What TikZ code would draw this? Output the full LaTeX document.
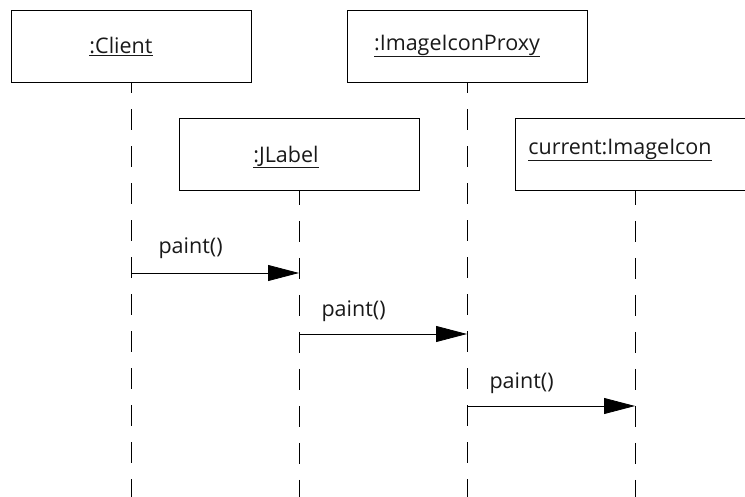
\documentclass[tikz,border=0pt]{standalone}
\usepackage{fontspec}
\setmainfont{Open Sans}
\usetikzlibrary{arrows.meta}
\begin{document}
\begin{tikzpicture}[x=1pt,y=-1pt,
  obj/.style={draw,line width=0.9pt,minimum width=240pt,minimum height=72pt,inner sep=0pt},
  lbl/.style={font=\fontsize{21.5}{24}\selectfont,text=black!90},
  life/.style={line width=1pt,dash pattern=on 21pt off 16pt},
  msg/.style={line width=0.8pt,-{Triangle[length=31pt,width=16pt]}},
  mlbl/.style={font=\fontsize{21.5}{24}\selectfont,anchor=west,text=black!90}]
\useasboundingbox (0,0) rectangle (745,497);
\clip (0,0) rectangle (745,497);
% objects
\node[obj] (client) at (131,46) {};
\node[obj] (proxy) at (467,46) {};
\node[obj] (jlabel) at (299,154.5) {};
\node[obj] (icon) at (635,154.5) {};
\node[lbl] (tclient) at (121,46) {\underline{:Client}};
\node[lbl] (tproxy) at (457,46) {\underline{:ImageIconProxy}};
\node[lbl] (tjlabel) at (286,157) {\underline{:JLabel}};
\node[lbl] (ticon) at (620,150) {\underline{current:ImageIcon}};
% lifeline ends
\coordinate (eclient) at (131,497);
\coordinate (eproxy) at (467,497);
\coordinate (ejlabel) at (299,497);
\coordinate (eicon) at (635,497);
\draw[life,dash phase=10pt] (client.south) -- (eclient);
\draw[life,dash phase=10pt] (proxy.south) -- (eproxy);
\draw[life,dash phase=7pt] (jlabel.south) -- (ejlabel);
\draw[life,dash phase=7pt] (icon.south) -- (eicon);
% messages
\coordinate (m1a) at (131,273);
\coordinate (m1b) at (299,273);
\coordinate (m2a) at (299,334);
\coordinate (m2b) at (467,334);
\coordinate (m3a) at (467,406);
\coordinate (m3b) at (635,406);
\draw[msg] (m1a) -- (m1b);
\draw[msg] (m2a) -- (m2b);
\draw[msg] (m3a) -- (m3b);
\node[mlbl] (l1) at (155,248) {paint()};
\node[mlbl] (l2) at (318,311) {paint()};
\node[mlbl] (l3) at (486,383) {paint()};
\end{tikzpicture}
\end{document}
